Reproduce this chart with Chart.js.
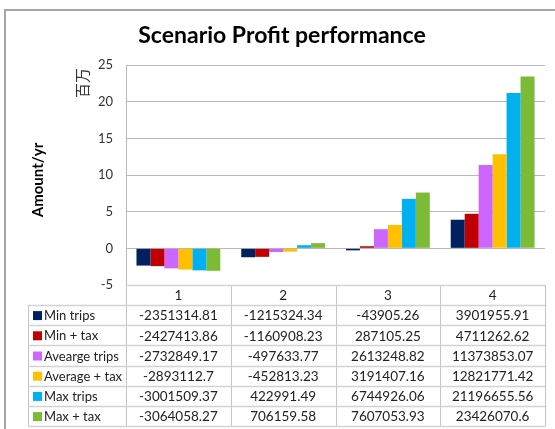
<!DOCTYPE html>
<html>
<head>
<meta charset="utf-8">
<script src="https://cdn.jsdelivr.net/npm/chart.js@4/dist/chart.umd.min.js"></script>
<style>
  html, body { margin: 0; padding: 0; background: #fff; }
  #wrap { width: 555px; height: 429px; }
</style>
</head>
<body>
<div id="wrap"><canvas id="profitChart" width="555" height="429"></canvas></div>
<script>
// Scenario columns and per-series profit values (amount/yr)
const scenarios = ['1', '2', '3', '4'];
const minTrips = [-2351314.81, -1215324.34, -43905.26, 3901955.91];
const minTax = [-2427413.86, -1160908.23, 287105.25, 4711262.62];
const avgTrips = [-2732849.17, -497633.77, 2613248.82, 11373853.07];
const avgTax = [-2893112.7, -452813.23, 3191407.16, 12821771.42];
const maxTrips = [-3001509.37, 422991.49, 6744926.06, 21196655.56];
const maxTax = [-3064058.27, 706159.58, 7607053.93, 23426070.6];

const seriesNames = ['Min trips', 'Min + tax', 'Avearge trips', 'Average + tax', 'Max trips', 'Max + tax'];
const seriesValues = [minTrips, minTax, avgTrips, avgTax, maxTrips, maxTax];
const seriesColors = ['#002060', '#c00000', '#cc66ff', '#ffc000', '#00b0f0', '#7cbb35'];

const yTicks = [-5, 0, 5, 10, 15, 20, 25]; // in millions

const chartTitle = 'Scenario Profit performance';
const FONT = 'Lato, "Open Sans", sans-serif';
const GRID = '#b8b8b8';

// Frame, title, side labels and the data table below the plot
const tablePlugin = {
    id: 'dataTable',
    beforeDraw(chart) {
        const ctx = chart.ctx;
        ctx.save();
        ctx.fillStyle = '#fff';
        ctx.fillRect(0, 0, chart.width, chart.height);
        ctx.strokeStyle = '#a6a6a6';
        ctx.lineWidth = 2;
        ctx.beginPath();
        ctx.moveTo(5, chart.height);
        ctx.lineTo(5, 10);
        ctx.lineTo(chart.width, 10);
        ctx.stroke();
        ctx.restore();
    },
    afterDraw(chart) {
        const { ctx, chartArea } = chart;
        const x = chart.scales.x;
        const colW = (chartArea.right - chartArea.left) / scenarios.length;
        const tableLeft = 28;
        const headH = 20;
        const rowH = 20.2;
        const top = chartArea.bottom;
        const rowsTop = top + headH;
        const bottom = rowsTop + rowH * seriesNames.length;

        ctx.save();

        // title
        ctx.fillStyle = '#000';
        ctx.textAlign = 'center';
        ctx.textBaseline = 'middle';
        ctx.font = 'bold 23px ' + FONT;
        ctx.fillText(chartTitle, 282, 36);

        // side labels
        ctx.save();
        ctx.translate(38, 180);
        ctx.rotate(-Math.PI / 2);
        ctx.font = 'bold 15px ' + FONT;
        ctx.fillText('Amount/yr', 0, 0);
        ctx.restore();
        ctx.save();
        ctx.translate(82, 83);
        ctx.rotate(-Math.PI / 2);
        ctx.font = '15px "Noto Sans CJK SC"';
        ctx.fillStyle = '#333';
        ctx.fillText('百万', 0, 0);
        ctx.restore();

        // table lines
        ctx.strokeStyle = '#c4c4c4';
        ctx.lineWidth = 1;
        ctx.beginPath();
        for (let i = 0; i <= scenarios.length; i++) {
            const px = Math.round(chartArea.left + i * colW) + 0.5;
            ctx.moveTo(px, top);
            ctx.lineTo(px, bottom);
        }
        ctx.moveTo(tableLeft + 0.5, rowsTop);
        ctx.lineTo(tableLeft + 0.5, bottom);
        ctx.stroke();

        ctx.lineWidth = 1.5;
        ctx.strokeStyle = '#d2d2d2';
        ctx.beginPath();
        ctx.moveTo(chartArea.left, top + 0.5);
        ctx.lineTo(chartArea.right, top + 0.5);
        for (let r = 0; r <= seriesNames.length; r++) {
            const py = Math.round(rowsTop + r * rowH) + 0.5;
            ctx.moveTo(tableLeft, py);
            ctx.lineTo(chartArea.right, py);
        }
        ctx.stroke();

        // header row
        ctx.font = '13.5px ' + FONT;
        ctx.fillStyle = '#222';
        ctx.textAlign = 'center';
        scenarios.forEach((label, i) => {
            ctx.fillText(label, x.getPixelForValue(i), top + headH / 2 + 1);
        });

        // series rows
        seriesNames.forEach((name, r) => {
            const cy = rowsTop + r * rowH + rowH / 2 + 1;
            ctx.fillStyle = seriesColors[r];
            ctx.fillRect(tableLeft + 5, cy - 5, 9, 9);
            ctx.fillStyle = '#222';
            ctx.textAlign = 'left';
            ctx.font = '13px ' + FONT;
            ctx.fillText(name, tableLeft + 16, cy);
            ctx.textAlign = 'center';
            ctx.font = '13.5px ' + FONT;
            seriesValues[r].forEach((v, i) => {
                ctx.fillText(String(v), x.getPixelForValue(i), cy);
            });
        });

        ctx.restore();
    }
};

const ctx = document.getElementById('profitChart').getContext('2d');
const profitChart = new Chart(ctx, {
    type: 'bar',
    data: {
        labels: scenarios,
        datasets: seriesNames.map((name, i) => ({
            label: name,
            data: seriesValues[i],
            backgroundColor: seriesColors[i],
            borderWidth: 0,
            barPercentage: 1,
            categoryPercentage: 0.8,
            minBarLength: 2
        }))
    },
    options: {
        responsive: false,
        animation: false,
        layout: { padding: { top: 65, right: 10, bottom: 0, left: 0 } },
        plugins: {
            legend: { display: false },
            tooltip: { enabled: false },
            title: { display: false }
        },
        scales: {
            x: {
                ticks: { display: false },
                grid: { display: false },
                border: { display: false },
                afterFit(scale) { scale.height = 144; }
            },
            y: {
                min: yTicks[0] * 1e6,
                max: yTicks[yTicks.length - 1] * 1e6,
                afterBuildTicks(scale) {
                    scale.ticks = yTicks.map(v => ({ value: v * 1e6 }));
                },
                ticks: {
                    color: '#333',
                    padding: 13,
                    font: { family: FONT, size: 13 },
                    callback: v => v / 1e6
                },
                grid: { color: GRID, drawTicks: false },
                border: { display: true, color: GRID },
                afterFit(scale) { scale.width = 126; }
            }
        }
    },
    plugins: [tablePlugin]
});
</script>
</body>
</html>
